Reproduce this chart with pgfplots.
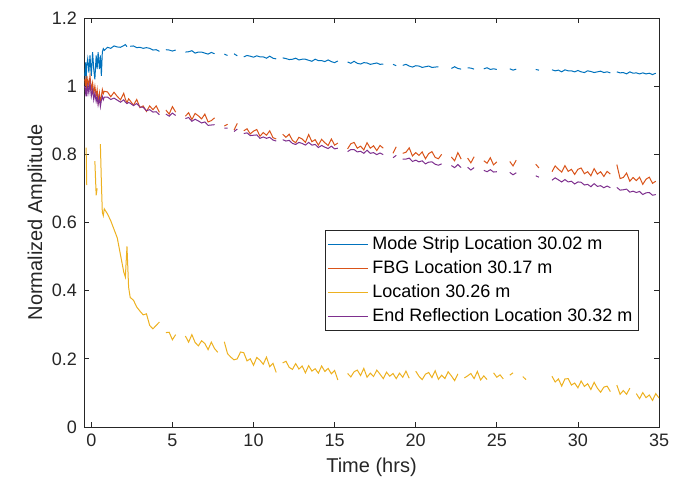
\documentclass[border=0pt]{standalone}
\usepackage{pgfplots}
\pgfplotsset{compat=1.18}
\usepackage{pgfplotstable}
\usepackage{fontspec}
\setmainfont{Liberation Sans}
\definecolor{mblue}{rgb}{0,0.447,0.741}
\definecolor{morange}{rgb}{0.850,0.325,0.098}
\definecolor{myellow}{rgb}{0.929,0.694,0.125}
\definecolor{mpurple}{rgb}{0.494,0.184,0.556}
\definecolor{mgray}{rgb}{0.15,0.15,0.15}

\pgfplotstableread{
x b o yel p
-0.40 1.030 1.020 nan 1.000
-0.35 1.070 1.000 nan 0.980
-0.32 1.010 1.030 0.820 0.990
-0.28 1.060 0.990 0.710 0.970
-0.22 1.080 1.020 nan 1.000
-0.15 1.040 1.000 nan 0.980
-0.08 1.090 1.030 nan 1.010
0.00 1.030 0.990 nan 0.970
0.08 1.100 1.010 nan 0.990
0.15 1.050 0.980 nan 0.960
0.22 1.020 1.000 0.780 0.980
0.30 1.090 0.970 0.680 0.955
0.36 1.050 0.990 0.700 0.970
0.42 1.100 0.955 nan 0.945
0.50 1.050 0.980 nan 0.965
0.56 1.090 0.950 0.830 0.940
0.62 1.030 0.970 0.720 0.958
0.68 1.100 0.990 0.630 0.970
0.74 1.110 0.978 0.620 0.960
0.80 1.105 0.985 0.640 0.968
1.0 1.114 0.983 0.625 0.968
1.2 1.111 0.969 0.605 0.961
1.4 1.118 0.982 0.580 0.965
1.6 1.115 0.970 0.555 0.959
1.8 1.114 0.960 0.505 0.953
2.0 1.119 0.979 0.455 0.960
2.1 1.122 0.962 0.440 0.953
2.2 1.116 0.951 0.530 0.949
2.3 nan 0.963 0.410 0.952
2.4 1.117 0.957 0.380 0.950
2.6 1.118 0.944 0.372 0.943
2.8 1.113 0.961 0.352 0.949
3.0 1.114 0.937 0.340 0.939
3.2 1.111 0.942 0.329 0.938
3.4 1.113 0.926 0.332 0.928
3.6 1.111 0.942 0.298 0.931
3.8 1.106 0.931 0.288 0.924
4.0 1.107 0.942 0.298 0.925
4.2 1.102 0.923 0.308 0.916
4.4 nan nan nan nan
4.6 1.107 0.930 0.277 0.918
4.8 1.106 0.918 0.278 0.912
5.0 1.103 0.940 0.256 0.921
5.2 1.106 0.924 0.271 0.914
5.4 nan nan nan nan
5.6 nan nan nan nan
5.8 1.100 0.912 0.267 0.905
6.0 1.101 0.922 0.249 0.908
6.2 1.104 0.902 0.271 0.897
6.4 1.097 0.920 0.248 0.903
6.6 1.100 0.913 0.238 0.898
6.8 1.100 0.904 0.253 0.892
7.0 1.097 0.918 0.245 0.895
7.2 1.094 0.895 0.227 0.885
7.4 1.099 0.899 0.249 0.886
7.6 1.095 0.907 0.230 0.887
7.8 nan nan 0.219 nan
8.0 nan nan nan nan
8.2 1.094 0.883 0.250 0.877
8.4 1.090 0.888 0.215 0.877
8.6 nan nan 0.205 nan
8.8 1.095 0.871 0.197 0.867
9.0 1.089 0.891 0.200 0.874
9.2 nan nan 0.220 nan
9.4 1.086 0.869 0.218 0.861
9.6 1.090 0.875 0.194 0.863
9.8 1.088 0.860 0.200 0.855
10.0 1.085 0.868 0.181 0.856
10.2 1.089 0.873 0.204 0.857
10.4 1.086 0.853 0.196 0.847
10.6 1.086 0.864 0.184 0.851
10.8 1.082 0.856 0.205 0.847
11.0 1.088 0.869 0.177 0.850
11.2 1.082 0.849 0.187 0.842
11.4 1.080 0.845 0.160 0.839
11.6 nan nan nan nan
11.8 1.083 0.859 0.188 0.843
12.0 1.081 0.850 0.193 0.839
12.2 1.078 0.859 0.175 0.841
12.4 1.079 0.841 0.169 0.832
12.6 1.082 0.834 0.186 0.829
12.8 1.077 0.850 0.170 0.835
13.0 1.079 0.845 0.179 0.832
13.2 1.079 0.835 0.159 0.827
13.4 1.076 0.858 0.180 0.835
13.6 1.073 0.837 0.164 0.827
13.8 1.079 0.843 0.171 0.829
14.0 1.075 0.827 0.158 0.820
14.2 1.075 0.844 0.179 0.826
14.4 1.072 0.834 0.163 0.821
14.6 1.077 0.826 0.172 0.817
14.8 1.072 0.845 0.156 0.824
15.0 1.069 0.827 0.166 0.816
15.2 1.074 0.833 0.138 0.818
15.4 nan nan nan nan
15.6 nan nan nan nan
15.8 1.071 0.816 0.157 0.808
16.0 1.067 0.831 0.147 0.814
16.2 1.073 0.835 0.162 0.814
16.4 1.067 0.818 0.167 0.807
16.6 1.065 0.824 0.151 0.809
16.8 1.069 0.813 0.172 0.803
17.0 1.068 0.834 0.146 0.812
17.2 1.064 0.818 0.158 0.803
17.4 1.066 0.825 0.148 0.805
17.6 1.068 0.811 0.167 0.799
17.8 1.064 0.826 0.155 0.804
18.0 1.065 0.818 0.142 0.799
18.2 nan nan 0.161 nan
18.4 nan nan 0.149 nan
18.6 1.064 0.803 0.157 0.790
18.8 1.060 0.822 0.142 0.797
19.0 nan nan 0.158 nan
19.2 1.061 0.803 0.146 0.786
19.4 1.064 0.806 0.164 0.786
19.6 1.059 0.819 0.143 0.789
19.8 1.056 0.795 nan 0.779
20.0 1.060 0.805 0.164 0.783
20.2 1.059 0.797 0.149 0.778
20.4 1.055 0.807 0.139 0.781
20.6 1.057 0.787 0.155 0.772
20.8 1.059 0.802 0.160 0.777
21.0 1.055 0.808 0.145 0.778
21.2 1.056 0.791 0.165 0.771
21.4 1.057 0.787 0.140 0.768
21.6 nan 0.800 0.152 0.772
21.8 nan nan 0.142 nan
22.0 nan nan 0.162 nan
22.2 1.052 0.792 0.150 0.767
22.4 1.057 0.781 0.136 0.761
22.6 1.052 0.805 0.156 0.770
22.8 1.050 0.786 nan 0.761
23.0 nan nan 0.144 nan
23.2 1.054 0.789 0.150 0.762
23.4 1.053 0.775 0.157 0.754
23.6 1.050 0.793 0.142 0.761
23.8 nan nan 0.163 nan
24.0 nan nan 0.138 nan
24.2 1.051 0.781 0.150 0.753
24.4 1.054 0.774 0.139 0.749
24.6 1.049 0.790 nan 0.755
24.8 1.051 0.769 0.159 0.748
25.0 1.049 0.778 0.146 0.749
25.2 nan nan 0.153 nan
25.4 nan nan 0.141 nan
25.6 nan nan nan nan
25.8 1.051 0.779 0.152 0.747
26.0 1.047 0.766 0.159 0.740
26.2 1.050 0.783 nan 0.746
26.4 nan nan nan nan
26.6 nan nan 0.148 nan
26.8 nan nan 0.139 nan
27.0 nan nan nan nan
27.2 nan nan nan nan
27.4 1.049 0.771 nan 0.737
27.6 1.047 0.760 nan 0.733
27.8 nan nan nan nan
28.0 nan nan nan nan
28.2 nan nan nan nan
28.4 1.048 0.749 0.149 0.724
28.6 1.045 0.766 0.132 0.731
28.8 1.047 0.756 0.141 0.725
29.0 1.042 0.748 0.120 0.719
29.2 1.048 0.767 0.141 0.726
29.4 1.045 0.750 0.142 0.719
29.6 1.045 0.756 0.123 0.721
29.8 1.042 0.741 0.129 0.713
30.0 1.046 0.756 0.115 0.719
30.2 1.042 0.760 0.135 0.718
30.4 1.040 0.743 0.119 0.710
30.6 1.045 0.749 0.127 0.712
30.8 1.043 0.737 0.110 0.705
31.0 1.040 0.758 0.131 0.714
31.2 1.042 0.742 0.114 0.706
31.4 1.044 0.749 0.102 0.708
31.6 1.040 0.735 0.117 0.702
31.8 1.042 0.750 0.120 0.707
32.0 1.039 0.742 0.104 0.702
32.2 nan nan nan nan
32.4 1.042 0.770 0.123 0.703
32.6 1.039 0.729 0.096 0.695
32.8 1.040 0.732 0.107 0.696
33.0 1.036 0.745 0.096 0.698
33.2 1.042 0.721 0.114 0.689
33.4 1.038 0.732 nan 0.692
33.6 1.039 0.723 0.098 0.688
33.8 1.036 0.733 0.083 0.691
34.0 1.039 0.712 0.101 0.682
34.2 1.036 0.727 0.086 0.687
34.4 1.038 0.733 0.094 0.688
34.6 1.034 0.715 0.078 0.680
34.8 1.038 0.721 0.098 0.682
35.0 nan nan 0.085 nan
}\datatable

\begin{document}
\begin{tikzpicture}
\begin{axis}[
  name=ax,
  scale only axis, width=287.5pt, height=204.5pt,
  xmin=-0.45, xmax=35, ymin=0, ymax=1.2,
  xtick={0,5,10,15,20,25,30,35},
  ytick={0,0.2,0.4,0.6,0.8,1,1.2},
  tick align=inside, major tick length=2.5pt,
  axis line style={draw=mgray, line width=0.4pt},
  every tick/.style={mgray, line width=0.4pt},
  /pgf/number format/assume math mode=true,
  ticklabel style={font=\fontsize{9}{10}\selectfont, text=mgray},
  xlabel={Time (hrs)}, ylabel={Normalized Amplitude},
  label style={font=\fontsize{10}{12}\selectfont, text=mgray},
  xlabel style={at={(axis description cs:0.5,-0.098)}, anchor=center},
  ylabel style={at={(axis description cs:-0.0817,0.5)}, anchor=center},
  unbounded coords=jump,
  legend style={at={(0.419,0.4817)}, anchor=north west, draw=mgray, line width=0.4pt,
    font=\fontsize{9}{10}\selectfont, inner sep=1pt, row sep=0pt},
  legend cell align=left,
  legend image code/.code={\draw[#1] (0pt,0pt) -- (20pt,0pt);},
  every axis plot/.append style={line width=0.5pt},
]
\addplot[mblue] table[x=x, y=b] {\datatable};
\addlegendentry{Mode Strip Location 30.02 m}
\addplot[morange] table[x=x, y=o] {\datatable};
\addlegendentry{FBG Location 30.17 m}
\addplot[myellow] table[x=x, y=yel] {\datatable};
\addlegendentry{Location 30.26 m}
\addplot[mpurple] table[x=x, y=p] {\datatable};
\addlegendentry{End Reflection Location 30.32 m}
\end{axis}
\pgfresetboundingbox
\path ([xshift=-42pt,yshift=-27.5pt]ax.south west) rectangle ([xshift=15.5pt,yshift=9pt]ax.north east);
\end{tikzpicture}
\end{document}
